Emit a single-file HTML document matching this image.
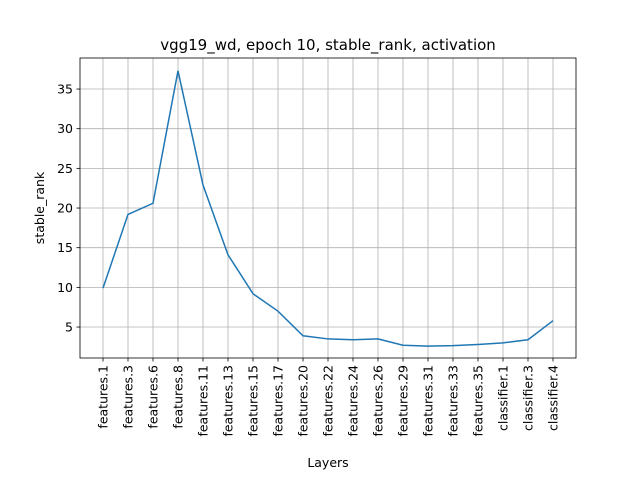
<!DOCTYPE html>
<html><head><meta charset="utf-8"><style>body{margin:0;background:#fff}svg{display:block;font-family:"DejaVu Sans","Liberation Sans",sans-serif}</style></head>
<body>
<svg id="chart" width="640" height="480"></svg>
<script>
const categories=["features.1","features.3","features.6","features.8","features.11","features.13","features.15","features.17","features.20","features.22","features.24","features.26","features.29","features.31","features.33","features.35","classifier.1","classifier.3","classifier.4"];
const values=[9.9,19.2,20.6,37.3,22.9,14.1,9.2,7.0,3.9,3.5,3.4,3.5,2.7,2.6,2.65,2.8,3.0,3.4,5.8];
const yTicks=[5,10,15,20,25,30,35];
const L=80,R=576,T=58,B=358;
const svg=document.getElementById('chart');
const NS='http://www.w3.org/2000/svg';
function x(i){return 103+i*(450/(categories.length-1));}
function y(v){return 366.7-v*(238/30);}
function mk(t,a,txt){const e=document.createElementNS(NS,t);for(const k in a)e.setAttribute(k,a[k]);if(txt!==undefined)e.textContent=txt;svg.appendChild(e);return e;}
categories.forEach((c,i)=>{
 const g=mk('line',{x1:x(i),x2:x(i),y1:T,y2:B,stroke:'#b0b0b0','stroke-width':0.8});
 
 
 mk('line',{x1:x(i),x2:x(i),y1:B,y2:B+3.5,stroke:'#000','stroke-width':0.8});
 const t=mk('text',{x:0,y:0,'font-size':12.5,'text-anchor':'end',transform:`translate(${x(i)+4.5},${B+7}) rotate(-90)`},c);
 
 
});
yTicks.forEach(v=>{
 const g=mk('line',{x1:L,x2:R,y1:y(v),y2:y(v),stroke:'#b0b0b0','stroke-width':0.8});
 
 
 mk('line',{x1:L-3.5,x2:L,y1:y(v),y2:y(v),stroke:'#000','stroke-width':0.8});
 const t=mk('text',{x:L-7,y:y(v)+4.5,'font-size':12.5,'text-anchor':'end'},v);
 
 
});
const p=mk('polyline',{points:values.map((v,i)=>x(i)+','+y(v)).join(' '),fill:'none',stroke:'#1f77b4','stroke-width':1.5});


const f=mk('rect',{x:L,y:T,width:R-L,height:B-T,fill:'none',stroke:'#000','stroke-width':0.8});


const ti=mk('text',{x:(L+R)/2,y:50,'font-size':15,'text-anchor':'middle'},'vgg19_wd, epoch 10, stable_rank, activation');


const xl=mk('text',{x:(L+R)/2,y:467,'font-size':12.5,'text-anchor':'middle'},'Layers');


const yl=mk('text',{x:0,y:0,'font-size':12.5,'text-anchor':'middle',transform:`translate(44,${(T+B)/2}) rotate(-90)`},'stable_rank');


</script>
</body></html>
